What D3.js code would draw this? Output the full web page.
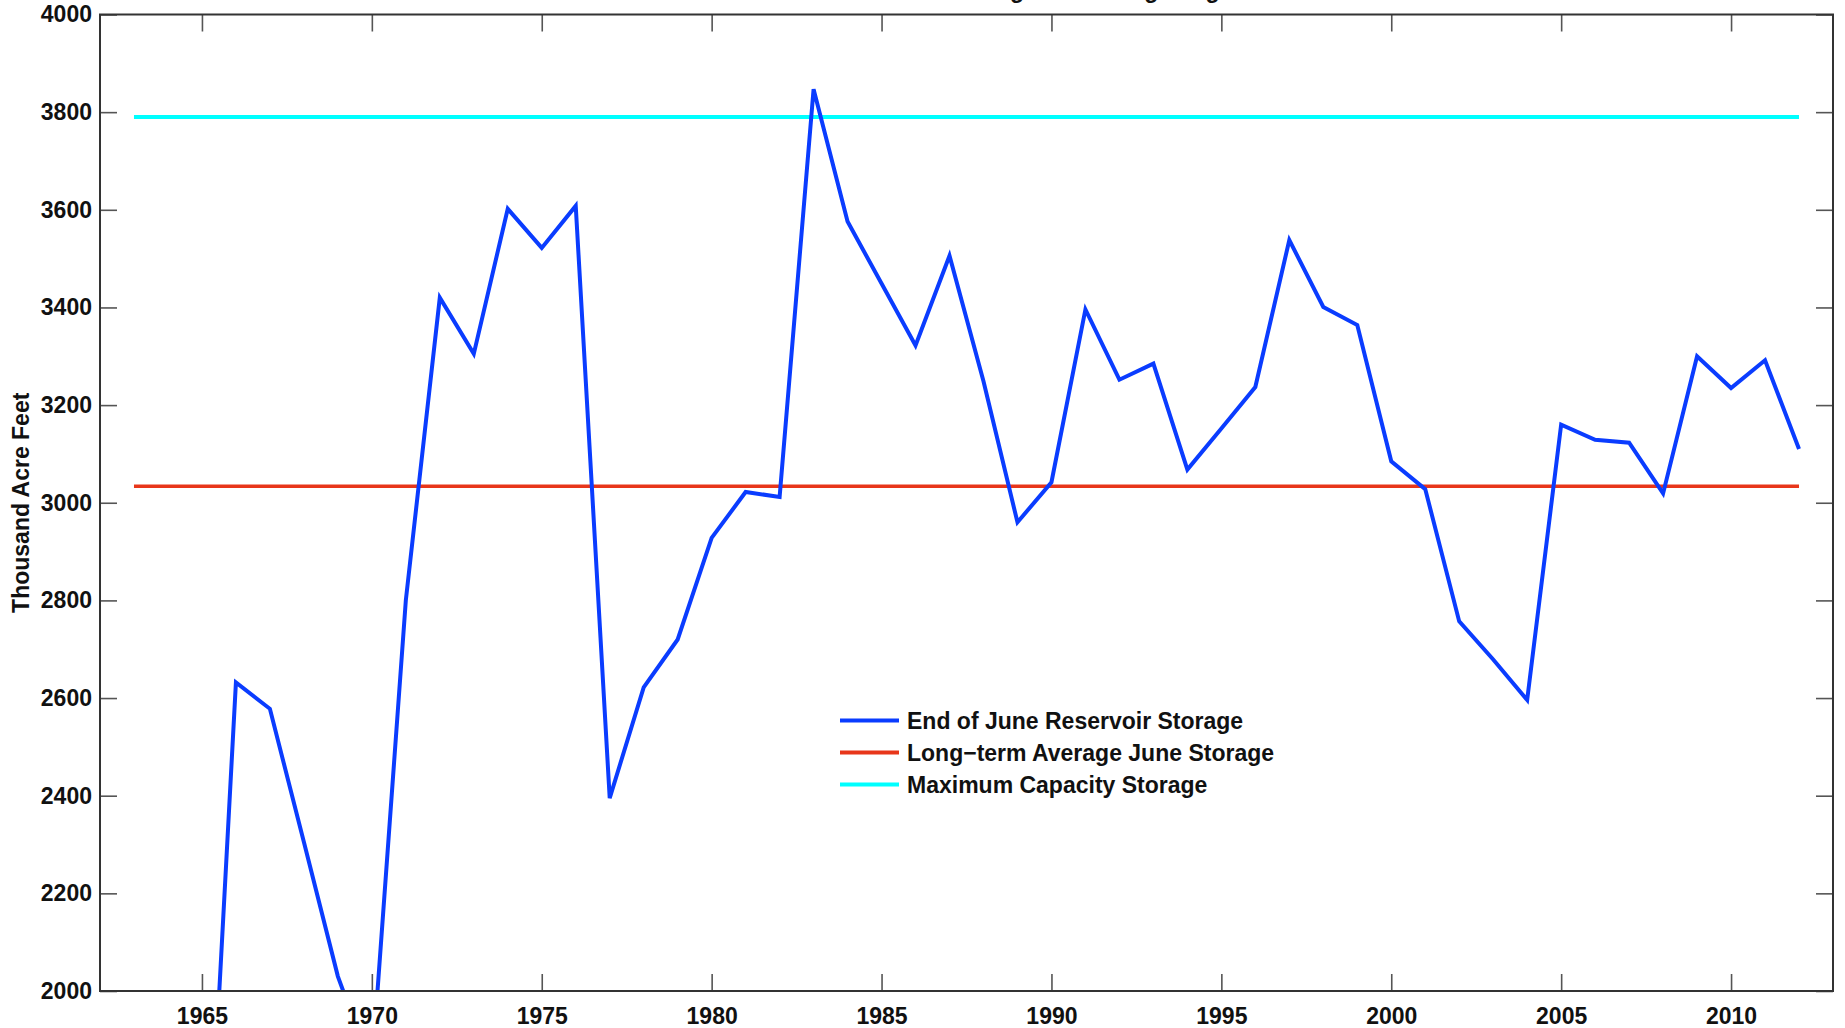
<!DOCTYPE html>
<html>
<head>
<meta charset="utf-8">
<script src="https://cdn.jsdelivr.net/npm/d3@7"></script>
<style>
  html, body { margin: 0; padding: 0; background: #fff; }
  svg { display: block; }
  text { font-family: "Liberation Sans", Arial, Helvetica, sans-serif; font-weight: bold; fill: #111; }
</style>
</head>
<body>
<svg id="chart" width="1845" height="1028"></svg>
<script>
// ---- data ----
const years = [1963, 1964, 1965, 1966, 1967, 1968, 1969, 1970, 1971, 1972,
  1973, 1974, 1975, 1976, 1977, 1978, 1979, 1980, 1981, 1982,
  1983, 1984, 1985, 1986, 1987, 1988, 1989, 1990, 1991, 1992,
  1993, 1994, 1995, 1996, 1997, 1998, 1999, 2000, 2001, 2002,
  2003, 2004, 2005, 2006, 2007, 2008, 2009, 2010, 2011, 2012];
const juneStorage = [600, 1000, 1340, 2632, 2578, 2305, 2030, 1840, 2800, 3420,
  3305, 3602, 3522, 3608, 2395, 2622, 2720, 2928, 3022, 3012,
  3847, 3576, 3449, 3322, 3506, 3249, 2960, 3042, 3396, 3252,
  3285, 3068, 3152, 3237, 3538, 3401, 3364, 3085, 3028, 2757,
  2679, 2596, 3160, 3129, 3123, 3019, 3300, 3235, 3292, 3110];
const avgJuneStorage = 3034;
const maxCapacity = 3790;
const xTicks = [1965, 1970, 1975, 1980, 1985, 1990, 1995, 2000, 2005, 2010];
const yTicks = [2000, 2200, 2400, 2600, 2800, 3000, 3200, 3400, 3600, 3800, 4000];
const seriesNames = ["End of June Reservoir Storage", "Long\u2212term Average June Storage", "Maximum Capacity Storage"];
const seriesColors = ["#0a3cff", "#e8361a", "#00ffff"];
const titleText = "End of June Reservoir Storage at Flaming Gorge";
const yLabel = "Thousand Acre Feet";

// ---- layout ----
const svg = d3.select("#chart");
const L = 100, R = 1833, T = 14.5, B = 991;
const x = d3.scaleLinear().domain([1962, 2013]).range([L, R]);
const y = d3.scaleLinear().domain([2000, 4000]).range([B, T]);
const FS = 23;

svg.append("defs").append("clipPath").attr("id", "clip")
  .append("rect").attr("x", L).attr("y", T).attr("width", R - L).attr("height", B - T);

// title (mostly above the visible area, as in the reference)
svg.append("text").attr("x", (L + R) / 2).attr("y", -2.5)
  .attr("text-anchor", "middle").style("font-size", (FS) + "px").text(titleText);

// axes with inward ticks
function styleAxis(g) {
  g.select(".domain").remove();
  g.selectAll(".tick line").attr("stroke", "#555").attr("stroke-width", 1.6);
  g.selectAll(".tick text").style("font-size", FS + "px").attr("fill", "#111")
    .style("font-family", '"Liberation Sans", Arial, sans-serif').style("font-weight", "bold");
}
svg.append("g").attr("transform", `translate(0,${B})`)
  .call(d3.axisBottom(x).tickValues(xTicks).tickFormat(d3.format("d")).tickSize(-17).tickPadding(17))
  .call(styleAxis);
svg.append("g").attr("transform", `translate(0,${T})`)
  .call(d3.axisTop(x).tickValues(xTicks).tickFormat("").tickSize(-17))
  .call(styleAxis);
svg.append("g").attr("transform", `translate(${L},0)`)
  .call(d3.axisLeft(y).tickValues(yTicks).tickFormat(d3.format("d")).tickSize(-17).tickPadding(8))
  .call(styleAxis);
svg.append("g").attr("transform", `translate(${R},0)`)
  .call(d3.axisRight(y).tickValues(yTicks).tickFormat("").tickSize(-17))
  .call(styleAxis);

// y label
svg.append("text")
  .attr("transform", `translate(29,${(T + B) / 2}) rotate(-90)`)
  .attr("text-anchor", "middle").style("font-size", FS + "px").text(yLabel);

// series
const plot = svg.append("g").attr("clip-path", "url(#clip)");
const line = d3.line().x(d => x(d[0])).y(d => y(d[1]));
const first = years[0], last = years[years.length - 1];
plot.append("path").datum([[first, maxCapacity], [last, maxCapacity]])
  .attr("d", line).attr("fill", "none").attr("stroke", seriesColors[2]).attr("stroke-width", 4);
plot.append("path").datum([[first, avgJuneStorage], [last, avgJuneStorage]])
  .attr("d", line).attr("fill", "none").attr("stroke", seriesColors[1]).attr("stroke-width", 3.5);
plot.append("path").datum(years.map((yr, i) => [yr, juneStorage[i]]))
  .attr("d", line).attr("fill", "none").attr("stroke", seriesColors[0])
  .attr("stroke-width", 4).attr("stroke-linejoin", "miter");

// box
svg.append("rect").attr("x", L).attr("y", T).attr("width", R - L).attr("height", B - T)
  .attr("fill", "none").attr("stroke", "#333").attr("stroke-width", 2);

// legend
const leg = svg.append("g");
const legRows = [720.5, 752.5, 784.5];
seriesNames.forEach((name, i) => {
  leg.append("line").attr("x1", 840).attr("x2", 899).attr("y1", legRows[i]).attr("y2", legRows[i])
    .attr("stroke", seriesColors[i]).attr("stroke-width", 4);
  leg.append("text").attr("x", 907).attr("y", legRows[i] + 8.5)
    .style("font-size", FS + "px").text(name);
});
</script>
</body>
</html>
